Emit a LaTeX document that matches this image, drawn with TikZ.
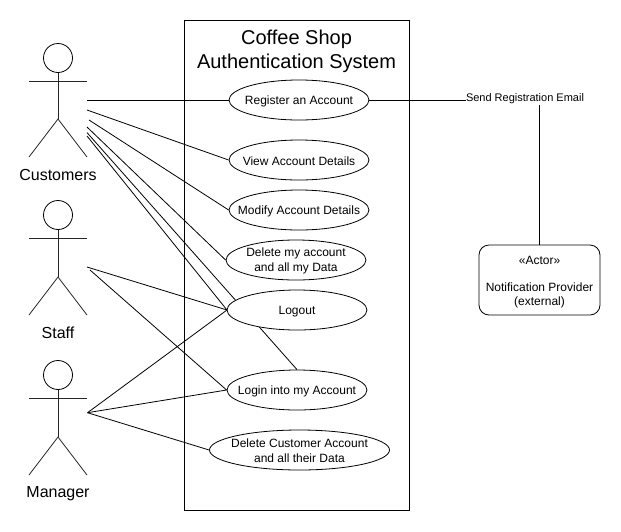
\documentclass[tikz,border=0pt]{standalone}
\usepackage{fontspec}
\setmainfont{Liberation Sans}
\usetikzlibrary{shapes.geometric,backgrounds}
\tikzset{
  usecase/.style={draw=black,fill=white,ellipse,line width=0.8pt,inner sep=0pt,minimum width=140pt,minimum height=40pt,
    label={[align=center,inner sep=0pt,yshift=-1.5pt,font=\fontsize{12}{15}\selectfont]center:#1}},
  usecasetwo/.style={draw=black,fill=white,ellipse,line width=0.8pt,inner sep=0pt,minimum width=140pt,minimum height=40pt,
    label={[align=center,inner sep=0pt,yshift=-0.8pt,font=\fontsize{12}{15}\selectfont]center:#1}},
  head/.style={draw=black,circle,line width=0.8pt,minimum size=29pt,inner sep=0pt},
  actorlabel/.style={font=\fontsize{16}{18}\selectfont,inner sep=0pt},
  conn/.style={draw=black,line width=0.8pt},
  limb/.style={draw=black!85,line width=0.8pt},
  sysbox/.style={draw=black,line width=0.8pt,minimum width=225pt,minimum height=490pt,inner sep=0pt},
  provider/.style={draw=black,line width=0.8pt,rounded corners=10pt,minimum width=121pt,minimum height=70pt,inner sep=0pt},
  smalltext/.style={font=\fontsize{12}{14}\selectfont,inner sep=0pt,align=center}
}
\begin{document}
\begin{tikzpicture}[x=1pt,y=-1pt]
\useasboundingbox (0,0) rectangle (621,531);
\node[sysbox] (sys) at (297,265) {};
\node[font=\fontsize{20}{24}\selectfont,align=center,inner sep=0pt] (title) at (296.5,51.5) {Coffee Shop\\Authentication System};

\node[usecase={Register an Account}] (reg) at (299,100) {};
\node[usecase={View Account Details}] (view) at (299,160) {};
\node[usecase={Modify Account Details}] (mod) at (299,210) {};
\node[usecasetwo={Delete my account\\and all my Data}] (del) at (296,260) {};
\node[usecase={Logout}] (logout) at (297,310) {};
\node[usecase={Login into my Account}] (login) at (297,390) {};
\node[usecasetwo={Delete Customer Account\\and all their Data},minimum width=180pt] (delc) at (299.5,450) {};

\node[head] (h1) at (58,58) {};
\node[head] (h2) at (58,215) {};
\node[head] (h3) at (58,375) {};
\node[actorlabel] (l1) at (58,175) {Customers};
\node[actorlabel] (l2) at (58,333) {Staff};
\node[actorlabel] (l3) at (58,494) {Manager};

\foreach \n/\ya/\yb/\yc in {1/81/119/157,2/238/277/315,3/398/437/475}{
  \coordinate (al\n) at (29,\ya);
  \coordinate (ar\n) at (87,\ya);
  \coordinate (hip\n) at (58,\yb);
  \coordinate (fl\n) at (29,\yc);
  \coordinate (fr\n) at (87,\yc);
  \draw[limb] (al\n) -- (ar\n);
  \draw[limb] (h\n) -- (hip\n);
  \draw[limb] (fl\n) -- (hip\n) -- (fr\n);
}

\coordinate (c1) at (87,100);
\coordinate (c2) at (87,110);
\coordinate (c3) at (89,120);
\coordinate (c4) at (87,127);
\coordinate (c5) at (87,132.6);
\coordinate (c6) at (87,136);
\coordinate (s1) at (87,267);
\coordinate (s2) at (90,270);
\coordinate (m1) at (87.5,412.7);
\coordinate (logleft) at (227,310);

\begin{pgfonlayer}{background}
\draw[conn] (c1) -- (reg.west);
\draw[conn] (c2) -- (view.west);
\draw[conn] (c3) -- (mod.west);
\draw[conn] (c4) -- (del.west);
\draw[conn] (c5) -- (login.north);
\draw[conn] (c6) -- (logleft);
\draw[conn] (s1) -- (logleft);
\draw[conn] (s2) -- (login.west);
\draw[conn] (m1) -- (logleft);
\draw[conn] (m1) -- (login.west);
\draw[conn] (m1) -- (delc.west);
\end{pgfonlayer}

\node[smalltext,fill=white,inner ysep=1pt,font=\fontsize{11}{13}\selectfont] (send) at (525,99) {Send Registration Email};
\node[provider] (prov) at (539.5,280) {};
\node[smalltext] (t1) at (539.5,260) {«Actor»};
\node[smalltext] (t2) at (539.5,295.5) {Notification Provider\\(external)};
\draw[conn] (reg.east) -- (send.west |- reg.east);
\draw[conn] (send.south -| prov.north) -- (prov.north);
\end{tikzpicture}
\end{document}
